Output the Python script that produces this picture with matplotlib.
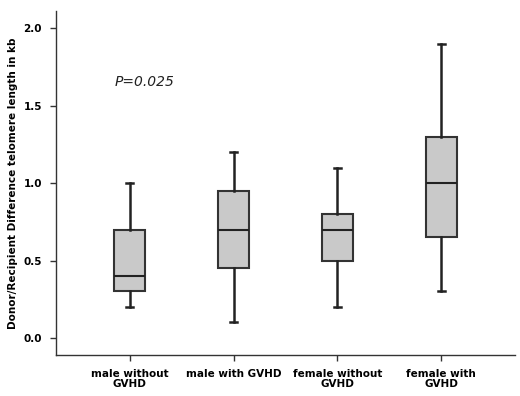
import matplotlib
matplotlib.use("Agg")
import matplotlib.pyplot as plt

categories = ["male without\nGVHD", "male with GVHD", "female without\nGVHD", "female with\nGVHD"]
whislo = [0.2, 0.1, 0.2, 0.3]
q1 = [0.3, 0.45, 0.5, 0.65]
med = [0.4, 0.7, 0.7, 1.0]
q3 = [0.7, 0.95, 0.8, 1.3]
whishi = [1.0, 1.2, 1.1, 1.9]
yticks = [0.0, 0.5, 1.0, 1.5, 2.0]

fig = plt.figure(figsize=(5.2, 3.96), dpi=100)
ax = fig.add_axes([0.1077, 0.1035, 0.8827, 0.8685])

stats = []
for i in range(len(categories)):
    stats.append(dict(whislo=whislo[i], q1=q1[i], med=med[i], q3=q3[i], whishi=whishi[i], fliers=[]))

ax.bxp(stats, positions=range(1, len(categories) + 1), widths=0.3, patch_artist=True,
       showfliers=False, showcaps=True,
       boxprops=dict(facecolor="#c9c9c9", edgecolor="#333333", linewidth=1.5),
       medianprops=dict(color="#222222", linewidth=1.5),
       whiskerprops=dict(color="#222222", linewidth=1.8),
       capprops=dict(color="#222222", linewidth=1.8), capwidths=0.07)

ax.set_xlim(0.29, 4.71)
ax.set_ylim(-0.11, 2.11)
ax.set_yticks(yticks)
ax.set_yticklabels([f"{v:.1f}" for v in yticks], fontweight="bold", fontsize=7.5)
ax.set_xticks(range(1, len(categories) + 1))
ax.set_xticklabels(categories, fontweight="bold", fontsize=7.5, linespacing=1.0)
for s in ["top", "right"]:
    ax.spines[s].set_visible(False)
for s in ["left", "bottom"]:
    ax.spines[s].set_color("#333333")
    ax.spines[s].set_linewidth(1.0)
ax.tick_params(direction="out", length=4, width=1, color="#333333", pad=6)
ax.set_ylabel("Donor/Recipient Difference telomere length in kb", fontweight="bold", fontsize=7.5, labelpad=4)
ax.text(0.85, 1.65, "P=0.025", fontstyle="italic", fontsize=10, ha="left", va="center", color="#222222")

fig.savefig("out.png", dpi=100)
